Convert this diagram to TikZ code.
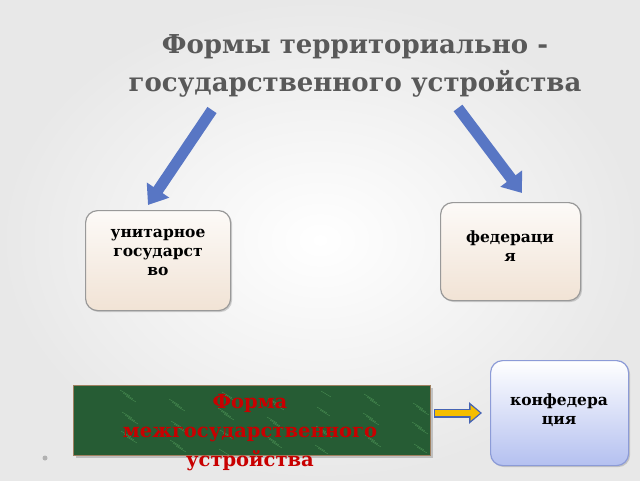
\documentclass[tikz,border=0pt]{standalone}
\usepackage{fontspec}
\setmainfont{DejaVu Serif}
\usetikzlibrary{arrows.meta,shadows}
\definecolor{barr}{RGB}{88,118,196}
\definecolor{cbord}{RGB}{140,155,215}
\definecolor{cbot}{RGB}{180,192,240}
\definecolor{gfill}{RGB}{38,92,52}
\definecolor{gred}{RGB}{200,0,0}
\definecolor{yarb}{RGB}{70,100,180}
\definecolor{yarf}{RGB}{245,190,0}
\begin{document}
\begin{tikzpicture}[x=1pt,y=-1pt,
  box/.style={draw=#1,line width=1.2pt,rounded corners=12pt,drop shadow={opacity=0.35,shadow xshift=1.5pt,shadow yshift=-1.5pt}},
  blab/.style={font=\bfseries\fontsize{15.5}{19}\selectfont,align=center,text=black},
  barrow/.style={line width=11pt,draw=barr,-{Triangle[width=26pt,length=18pt]}}]
\useasboundingbox (0,0) rectangle (640,480);
\shade[inner color=white,outer color=gray!18] (0,0) rectangle (640,480);
\node (title) at (355,66) [font=\bfseries\fontsize{26}{38}\selectfont,align=center,text=gray!70!black] {Формы  территориально -\\государственного устройства};
\coordinate (ls) at (212,110); \coordinate (le) at (148,205);
\coordinate (rs) at (458,108); \coordinate (re) at (522,193);
\draw[barrow] (ls) -- (le);
\draw[barrow] (rs) -- (re);
\node (u) [box=gray!80,top color=white!96!brown,bottom color=brown!22!white,minimum width=145pt,minimum height=100pt,anchor=north west] at (85,210) {};
\node[blab,anchor=north] at (158,226) {унитарное\\государст\\во};
\node (f) [box=gray!80,top color=white!96!brown,bottom color=brown!22!white,minimum width=140pt,minimum height=98pt,anchor=north west] at (440,202) {};
\node[blab,anchor=north] at (510,227) {федераци\\я};
\node (c) [box=cbord,top color=white,bottom color=cbot,minimum width=138pt,minimum height=105pt,anchor=north west] at (490,360) {};
\node[blab,anchor=north] at (559,390) {конфедера\\ция};
\node (g) [draw=gray!50!brown,fill=gfill,minimum width=357pt,minimum height=70pt,anchor=north west,drop shadow={opacity=0.4}] at (73,385) {};
\foreach \i in {1,...,60}{\pgfmathsetmacro{\xx}{80+mod(\i*97,340)}\pgfmathsetmacro{\yy}{390+mod(\i*37,60)}
 \draw[green!40!white,opacity=0.3] (\xx,\yy) -- ++(10,6);}
\node (gt) at (250,433) [font=\bfseries\fontsize{19.5}{29}\selectfont,align=center,text=gred] {Форма\\межгосударственного\\устройства};
\coordinate (ys) at (434,413); \coordinate (ye) at (482,413);
\draw[line width=9pt,draw=yarb,-{Triangle[width=21pt,length=13pt]}] (ys) -- (ye);
\draw[line width=6.6pt,draw=yarf,-{Triangle[width=15pt,length=9.5pt]},shorten <=1.2pt,shorten >=2pt] (ys) -- (ye);
\fill[gray!60] (45,458) circle (2.5pt);
\end{tikzpicture}
\end{document}
